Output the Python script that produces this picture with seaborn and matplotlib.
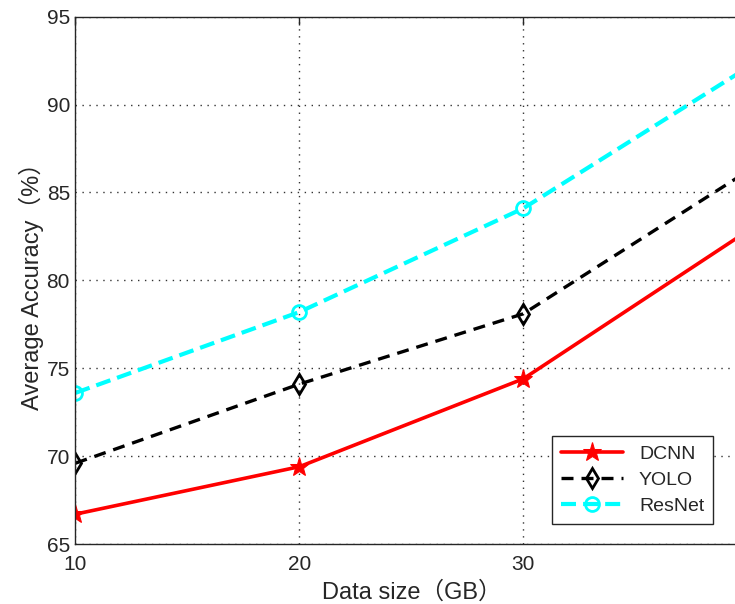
import pandas as pd
import numpy as np
import seaborn as sns
import matplotlib.pyplot as plt

sizes = [10, 20, 30, 40]
dcnn = [66.7, 69.4, 74.4, 82.8]
yolo = [69.6, 74.1, 78.1, 86.2]
resnet = [73.6, 78.2, 84.1, 92.1]

sns.set_style('white')
plt.rcParams['font.family'] = ['Liberation Sans', 'Noto Sans CJK SC', 'DejaVu Sans']

df = pd.DataFrame({'size': sizes, 'DCNN': dcnn, 'YOLO': yolo, 'ResNet': resnet})

fig = plt.figure(figsize=(7.35, 6.04), dpi=100)
# right edge of the axes falls outside the picture, like the reference crop
ax = fig.add_axes([0.1027, 0.0993, 0.914, 0.873])

sns.lineplot(data=df, x='size', y='DCNN', ax=ax, color='red', lw=2.6,
             marker='*', markersize=14, markeredgecolor='red', label='DCNN')
sns.lineplot(data=df, x='size', y='YOLO', ax=ax, color='black', lw=2.4,
             linestyle=(0, (3.6, 2.4)), marker='d', markersize=10, markerfacecolor='none',
             markeredgecolor='black', markeredgewidth=2, label='YOLO')
sns.lineplot(data=df, x='size', y='ResNet', ax=ax, color='cyan', lw=3,
             linestyle=(0, (3.6, 1.7)), marker='o', markersize=10, markerfacecolor='none',
             markeredgecolor='cyan', markeredgewidth=2, label='ResNet')

ax.set_xlim(10, 40)
ax.set_ylim(65, 95)
ax.set_xticks([10, 20, 30])
ax.set_yticks([65, 70, 75, 80, 85, 90, 95])
ax.grid(True, color='#333333', linestyle=(0, (1, 4)), linewidth=1)
ax.tick_params(direction='in', length=6, width=1, top=True, right=True,
               labelsize=15, colors='#262626', pad=4)
ax.tick_params(axis='x', pad=8)
for s in ax.spines.values():
    s.set_color('#262626')
    s.set_linewidth(1)

ax.set_xlabel('Data size（GB）', fontsize=17, color='#262626', labelpad=5)
ax.set_ylabel('Average Accuracy（%）', fontsize=17, color='#262626', labelpad=2)

leg = ax.legend(loc='lower right', bbox_to_anchor=(0.949, 0.038), fontsize=14,
                fancybox=False, framealpha=1, edgecolor='#262626', borderpad=0.45,
                handlelength=3.2, labelspacing=0.45, borderaxespad=0)
leg.get_frame().set_linewidth(1)

plt.savefig('out.png', dpi=100)
